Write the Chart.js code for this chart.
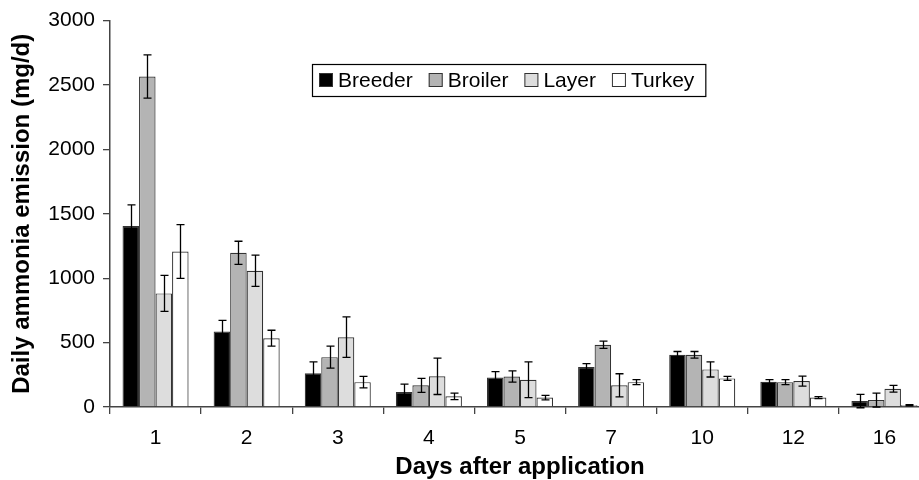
<!DOCTYPE html>
<html>
<head>
<meta charset="utf-8">
<script src="https://cdn.jsdelivr.net/npm/chart.js@4"></script>
<style>
  html, body { margin: 0; padding: 0; background: #fff; overflow: hidden; }
  #wrap { width: 934px; height: 480px; }
</style>
</head>
<body>
<div id="wrap"><canvas id="emissionChart" width="934" height="480"></canvas></div>
<script>
const days = ['1', '2', '3', '4', '5', '7', '10', '12', '16'];

// mg/d
const breeder = [1405, 586, 263, 116, 230, 310, 405, 196, 46];
const broiler = [2566, 1197, 387, 168, 237, 483, 405, 193, 54];
const layer = [882, 1058, 542, 238, 212, 168, 292, 201, 142];
const turkey = [1207, 534, 193, 83, 73, 193, 222, 73, 13];

// error bar half-lengths
const breederErr = [165, 87, 88, 62, 44, 26, 26, 16, 52];
const broilerErr = [168, 90, 85, 54, 44, 28, 26, 19, 54];
const layerErr = [140, 121, 157, 141, 139, 90, 59, 39, 26];
const turkeyErr = [209, 62, 45, 25, 18, 19, 16, 8, 5];

const yTicks = [0, 500, 1000, 1500, 2000, 2500, 3000];

const FONT = "'Liberation Sans', Arial, sans-serif";

// draws the +/- bars on top of each bar
const errorBars = {
    id: 'errorBars',
    afterDatasetsDraw(chart) {
        const ctx = chart.ctx;
        const y = chart.scales.y;
        ctx.save();
        ctx.strokeStyle = '#000';
        ctx.lineWidth = 1.3;
        chart.data.datasets.forEach((ds, i) => {
            const meta = chart.getDatasetMeta(i);
            meta.data.forEach((bar, j) => {
                const v = ds.data[j];
                const e = ds.errors[j];
                const yTop = y.getPixelForValue(v + e);
                const yBot = y.getPixelForValue(v - e);
                const x = Math.round(bar.x) + 0.5;
                ctx.beginPath();
                ctx.moveTo(x, yTop);
                ctx.lineTo(x, yBot);
                ctx.moveTo(x - 4, yTop);
                ctx.lineTo(x + 4, yTop);
                ctx.moveTo(x - 4, yBot);
                ctx.lineTo(x + 4, yBot);
                ctx.stroke();
            });
        });
        ctx.restore();
    }
};

// boxed legend sitting inside the plot
const boxLegend = {
    id: 'boxLegend',
    afterDraw(chart) {
        const ctx = chart.ctx;
        ctx.save();
        ctx.font = '21px ' + FONT;
        ctx.textBaseline = 'middle';
        const left = 312, top = 64, h = 32;
        const sq = 14, gap = 16;
        let x = left + 7;
        const cy = top + h / 2;
        chart.data.datasets.forEach((ds, i) => {
            ctx.fillStyle = ds.backgroundColor;
            ctx.fillRect(x, cy - sq / 2, sq, sq);
            ctx.strokeStyle = '#333';
            ctx.lineWidth = 1;
            ctx.strokeRect(x + 0.5, cy - sq / 2 + 0.5, sq - 1, sq - 1);
            x += sq + 5;
            ctx.fillStyle = '#000';
            ctx.fillText(ds.label, x, cy + 1);
            x += ctx.measureText(ds.label).width + gap;
        });
        ctx.strokeStyle = '#000';
        ctx.lineWidth = 1.2;
        ctx.strokeRect(left + 0.5, top + 0.5, x - gap + 11 - left, h);
        ctx.restore();
    }
};

function series(label, data, errors, color) {
    return {
        label: label,
        data: data,
        errors: errors,
        backgroundColor: color,
        borderColor: '#333',
        borderWidth: 1.2,
        borderSkipped: 'bottom',
        barPercentage: 1.0,
        categoryPercentage: 0.725
    };
}

new Chart(document.getElementById('emissionChart'), {
    type: 'bar',
    data: {
        labels: days,
        datasets: [
            series('Breeder', breeder, breederErr, '#000000'),
            series('Broiler', broiler, broilerErr, '#b4b4b4'),
            series('Layer', layer, layerErr, '#dddddd'),
            series('Turkey', turkey, turkeyErr, '#ffffff')
        ]
    },
    options: {
        responsive: false,
        animation: false,
        layout: { padding: { top: 19, right: 4, left: 0, bottom: 0 } },
        plugins: {
            legend: { display: false },
            tooltip: { enabled: false }
        },
        scales: {
            x: {
                afterFit: s => { s.height = 73; },
                grid: { drawOnChartArea: false, tickLength: 7, color: '#444', lineWidth: 1.3 },
                border: { color: '#444', width: 1.5 },
                ticks: { color: '#000', font: { family: FONT, size: 21 }, padding: 12 },
                title: {
                    display: true,
                    text: 'Days after application',
                    color: '#000',
                    font: { family: FONT, size: 24, weight: 'bold' },
                    padding: { top: 0, bottom: -2 }
                }
            },
            y: {
                min: 0,
                max: 3000,
                afterFit: s => { s.width = 110; },
                afterBuildTicks: s => { s.ticks = yTicks.map(v => ({ value: v })); },
                grid: { drawOnChartArea: false, tickLength: 7, color: '#444', lineWidth: 1.3 },
                border: { color: '#444', width: 1.5 },
                ticks: {
                    color: '#000',
                    font: { family: FONT, size: 21 },
                    padding: 8,
                    callback: v => String(v)
                },
                title: {
                    display: true,
                    text: 'Daily ammonia emission (mg/d)',
                    color: '#000',
                    font: { family: FONT, size: 24, weight: 'bold' },
                    padding: { top: 8, bottom: 0 }
                }
            }
        }
    },
    plugins: [errorBars, boxLegend]
});
</script>
</body>
</html>
